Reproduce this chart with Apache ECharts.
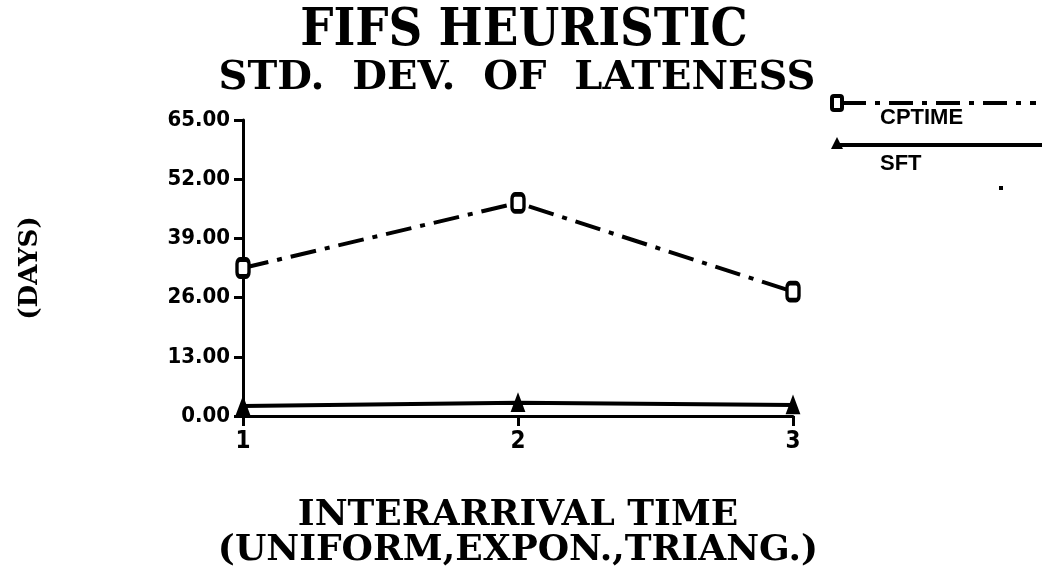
<!DOCTYPE html>
<html>
<head>
<meta charset="utf-8">
<script src="https://cdn.jsdelivr.net/npm/echarts@6/dist/echarts.min.js"></script>
<style>
  html, body { margin: 0; padding: 0; background: #fff; }
  #chart { width: 1042px; height: 576px; }
</style>
</head>
<body>
<div id="chart"></div>
<script>
// 数据
const xValues = [1, 2, 3];
const cptime = [32.5, 46.8, 27.3];
const sft = [2.2, 2.9, 2.4];
const yTicks = [0, 13, 26, 39, 52, 65];

const serif = '"DejaVu Serif", "Liberation Serif", serif';
const narrow = '"Liberation Sans Narrow", "DejaVu Sans Condensed", sans-serif';
const chart = echarts.init(document.getElementById('chart'));

const option = {
  backgroundColor: '#fff',
  animation: false,
  title: [
    {
      text: 'FIFS HEURISTIC',
      left: 519, top: 0, textAlign: 'center',
      textStyle: { fontFamily: '"DejaVu Serif Condensed", "DejaVu Serif", serif', fontWeight: 'bold', fontSize: 52, color: '#000' }
    },
    {
      text: 'STD.  DEV.  OF  LATENESS',
      left: 512, top: 54, textAlign: 'center',
      textStyle: { fontFamily: serif, fontWeight: 'bold', fontSize: 40, color: '#000' }
    }
  ],
  grid: { left: 243, right: 249, top: 120, bottom: 160 },
  xAxis: {
    type: 'value',
    min: 1, max: 3, interval: 1,
    name: 'INTERARRIVAL TIME\n(UNIFORM,EXPON.,TRIANG.)',
    nameLocation: 'middle',
    nameGap: 82,
    nameTextStyle: { fontFamily: serif, fontWeight: 'bold', fontSize: 36, color: '#000', lineHeight: 35 },
    axisLine: { lineStyle: { color: '#000', width: 3 } },
    axisTick: { inside: false, length: 10, lineStyle: { color: '#000', width: 3 } },
    axisLabel: { fontFamily: narrow, fontWeight: 'bold', fontSize: 24, color: '#000', margin: 14 },
    splitLine: { show: false }
  },
  yAxis: {
    type: 'value',
    min: yTicks[0], max: yTicks[yTicks.length - 1], interval: 13,
    name: '(DAYS)',
    nameLocation: 'middle',
    nameGap: 200,
    nameRotate: 90,
    nameTextStyle: { fontFamily: serif, fontWeight: 'bold', fontSize: 26, color: '#000' },
    axisLine: { show: true, lineStyle: { color: '#000', width: 3 } },
    axisTick: { show: true, length: 9, lineStyle: { color: '#000', width: 3 } },
    axisLabel: {
      fontFamily: narrow,
      fontWeight: 'bold', fontSize: 22, color: '#000', margin: 13,
      formatter: v => v.toFixed(2)
    },
    splitLine: { show: false }
  },
  series: [
    {
      name: 'CPTIME',
      type: 'line',
      data: xValues.map((x, i) => [x, cptime[i]]),
      symbol: 'roundRect',
      symbolSize: [12, 17],
      itemStyle: { color: '#fff', borderColor: '#000', borderWidth: 4 },
      lineStyle: { color: '#000', width: 4, type: [26, 9, 5, 9] }
    },
    {
      name: 'SFT',
      type: 'line',
      data: xValues.map((x, i) => [x, sft[i]]),
      symbol: 'triangle',
      symbolSize: [12, 16],
      itemStyle: { color: '#000', borderColor: '#000', borderWidth: 2 },
      lineStyle: { color: '#000', width: 4 }
    }
  ],
  // 图例（手工绘制）
  graphic: [
    { type: 'line', shape: { x1: 842, y1: 103, x2: 1036, y2: 103 },
      style: { stroke: '#000', lineWidth: 4, lineDash: [24, 9, 5, 9] } },
    { type: 'rect', shape: { x: 832, y: 96, width: 10, height: 14, r: 2 },
      style: { fill: '#fff', stroke: '#000', lineWidth: 4 } },
    { type: 'text', left: 880, top: 107,
      style: { text: 'CPTIME', font: 'bold 22px "Liberation Sans Narrow", sans-serif', fill: '#000' } },
    { type: 'line', shape: { x1: 838, y1: 145, x2: 1042, y2: 145 },
      style: { stroke: '#000', lineWidth: 4 } },
    { type: 'polygon', shape: { points: [[837, 137], [831, 149], [843, 149]] },
      style: { fill: '#000' } },
    { type: 'text', left: 880, top: 153,
      style: { text: 'SFT', font: 'bold 22px "Liberation Sans Narrow", sans-serif', fill: '#000' } },
    { type: 'rect', shape: { x: 999, y: 186, width: 4, height: 4 }, style: { fill: '#000' } }
  ]
};

chart.setOption(option);
</script>
</body>
</html>
